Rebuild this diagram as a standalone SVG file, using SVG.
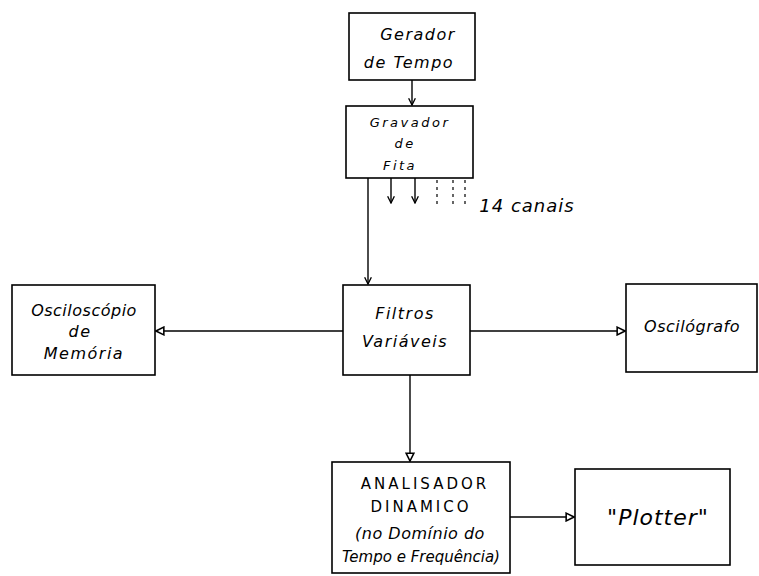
<svg xmlns="http://www.w3.org/2000/svg" width="759" height="576" viewBox="0 0 759 576">
<style>
.box{fill:none;stroke:#000;stroke-width:1.6}
.ln{fill:none;stroke:#000;stroke-width:1.4}
.dot{fill:none;stroke:#000;stroke-width:1.2;stroke-dasharray:3 4}
text{font-family:"DejaVu Sans",sans-serif;font-style:italic;fill:#000;text-anchor:middle}
.t{font-size:16px;letter-spacing:1.5px}
.s{font-size:13px;letter-spacing:2.5px}
.u{font-size:15px;font-style:normal;letter-spacing:3px}
.p{font-size:16px;letter-spacing:0.5px}
</style>
<defs>
<marker id="ah" viewBox="0 0 10 10" refX="9" refY="5" markerWidth="7" markerHeight="7" orient="auto">
<path d="M1,1 L9,5 L1,9 Z" fill="#fff" stroke="#000" stroke-width="1.6"/>
</marker>
<marker id="ahf" viewBox="0 0 10 10" refX="9" refY="5" markerWidth="6" markerHeight="6" orient="auto">
<path d="M1,1 L9,5 L1,9" fill="none" stroke="#000" stroke-width="1.6"/>
</marker>
</defs>
<rect width="759" height="576" fill="#fff"/>
<g id="connectors">
<line class="ln" x1="412" y1="80" x2="412" y2="105" marker-end="url(#ahf)"/>
<line class="ln" x1="368" y1="178" x2="368" y2="284" marker-end="url(#ahf)"/>
<line class="ln" x1="391" y1="178" x2="391" y2="203" marker-end="url(#ahf)"/>
<line class="ln" x1="415" y1="178" x2="415" y2="203" marker-end="url(#ahf)"/>
<line class="dot" x1="437" y1="180" x2="437" y2="206"/>
<line class="dot" x1="453" y1="180" x2="453" y2="206"/>
<line class="dot" x1="465" y1="180" x2="465" y2="206"/>
<line class="ln" x1="343" y1="331" x2="156" y2="331" marker-end="url(#ah)"/>
<line class="ln" x1="470" y1="331" x2="625" y2="331" marker-end="url(#ah)"/>
<line class="ln" x1="410" y1="375" x2="410" y2="461" marker-end="url(#ah)"/>
<line class="ln" x1="510" y1="517" x2="574" y2="517" marker-end="url(#ah)"/>
</g>
<g id="gerador">
<rect class="box" x="349" y="13" width="126" height="67"/>
<text class="t" x="418" y="40">Gerador</text>
<text class="t" x="409" y="68">de Tempo</text>
</g>
<g id="gravador">
<rect class="box" x="346" y="106" width="127" height="72"/>
<text class="s" x="410" y="127">Gravador</text>
<text class="s" x="405" y="148">de</text>
<text class="s" x="400" y="170">Fita</text>
</g>
<g id="canais">
<text class="t" x="527" y="212" style="font-size:18px;letter-spacing:1px">14 canais</text>
</g>
<g id="filtros">
<rect class="box" x="343" y="285" width="127" height="90"/>
<text class="t" x="405" y="319">Filtros</text>
<text class="t" x="405" y="347">Variáveis</text>
</g>
<g id="osciloscopio">
<rect class="box" x="12" y="285" width="143" height="90"/>
<text class="p" x="84" y="316">Osciloscópio</text>
<text class="t" x="80" y="337">de</text>
<text class="t" x="84" y="359">Memória</text>
</g>
<g id="oscilografo">
<rect class="box" x="626" y="284" width="131" height="88"/>
<text class="p" x="692" y="332">Oscilógrafo</text>
</g>
<g id="analisador">
<rect class="box" x="332" y="462" width="178" height="111"/>
<text class="u" x="425" y="489">ANALISADOR</text>
<text class="u" x="421" y="512">DINAMICO</text>
<text class="p" x="420" y="539">(no Domínio do</text>
<text class="p" x="421" y="562" style="font-size:15px;letter-spacing:0">Tempo e Frequência)</text>
</g>
<g id="plotter">
<rect class="box" x="575" y="469" width="155" height="96"/>
<text class="t" x="658" y="525" style="font-size:22px;letter-spacing:1px">"Plotter"</text>
</g>
</svg>
